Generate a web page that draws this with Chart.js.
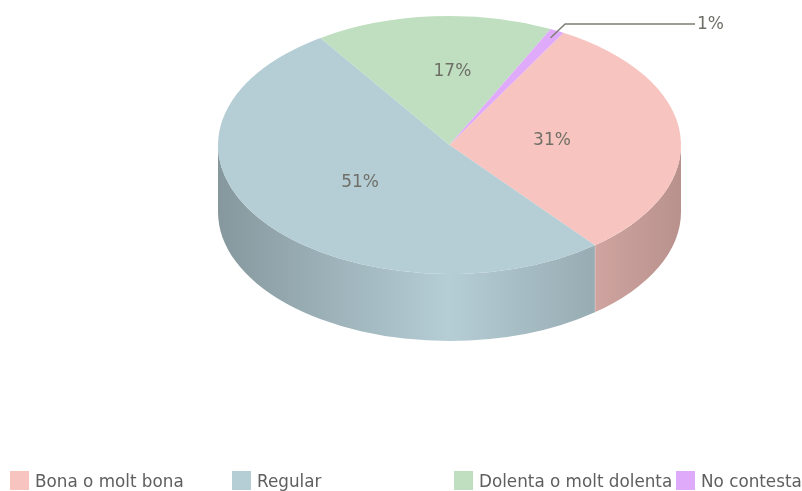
<!DOCTYPE html>
<html>
<head>
<meta charset="utf-8">
<script src="https://cdn.jsdelivr.net/npm/chart.js@4"></script>
<style>
  html, body { margin: 0; padding: 0; background: #fff; overflow: hidden; }
  #wrap { position: relative; width: 802px; height: 491px; filter: blur(0.4px); }
  #pie { position: absolute; left: 0; top: 0; }
  .key { position: absolute; top: 471px; height: 19px; font: 16.8px "DejaVu Sans", sans-serif; color: #5f5f5f; line-height: 20px; white-space: nowrap; }
  .key i { display: inline-block; width: 19px; height: 19px; margin-right: 6px; vertical-align: top; }
</style>
</head>
<body>
<div id="wrap">
  <canvas id="pie" width="802" height="491"></canvas>
  <div id="legend"></div>
</div>
<script>
const categories = ["Bona o molt bona", "Regular", "Dolenta o molt dolenta", "No contesta"];
const shares = [31, 51.4, 16.6, 1];
const sliceColors = ["#F8C4BF", "#B5CDD5", "#C0DFC0", "#E0AAFB"];

const textColor = "#6f6f68";
const tilt = 0.557;      // vertical squash of the pie
const depth = 67;        // height of the wall
const centerY = 145;     // where the top of the pie sits on screen
const labelReach = [0.44, 0.485, 0.567];
const labelNudge = [1, 1, 12];

function shade(hex, f) {
  const n = parseInt(hex.slice(1), 16);
  const c = [n >> 16, (n >> 8) & 255, n & 255].map(v => Math.round(v * f));
  return "rgb(" + c.join(",") + ")";
}

// squashes the library's round pie and adds the wall under it
const pie3d = {
  id: "pie3d",
  beforeDatasetsDraw(chart) {
    const ctx = chart.ctx;
    const arcs = chart.getDatasetMeta(0).data;
    const midY = (chart.chartArea.top + chart.chartArea.bottom) / 2;
    const rx = arcs[0].outerRadius, ry = rx * tilt;

    arcs.forEach((arc, i) => {
      // only the front half of the pie shows a wall
      const s = Math.max(arc.startAngle, 0), e = Math.min(arc.endAngle, Math.PI);
      if (e <= s) return;
      const g = ctx.createLinearGradient(arc.x - rx, 0, arc.x + rx, 0);
      g.addColorStop(0, shade(sliceColors[i], 0.74));
      g.addColorStop(0.5, shade(sliceColors[i], 1));
      g.addColorStop(1, shade(sliceColors[i], 0.74));
      ctx.beginPath();
      ctx.ellipse(arc.x, centerY, rx, ry, 0, s, e);
      ctx.ellipse(arc.x, centerY + depth, rx, ry, 0, e, s, true);
      ctx.closePath();
      ctx.fillStyle = g;
      ctx.fill();
      if (e < Math.PI) {
        const x = arc.x + rx * Math.cos(e), y = centerY + ry * Math.sin(e);
        ctx.beginPath();
        ctx.moveTo(x, y);
        ctx.lineTo(x, y + depth);
        ctx.strokeStyle = "rgba(255,255,255,0.5)";
        ctx.lineWidth = 1;
        ctx.stroke();
      }
    });

    ctx.save();
    ctx.translate(0, centerY);
    ctx.scale(1, tilt);
    ctx.translate(0, -midY);
  },
  afterDatasetsDraw(chart) {
    const ctx = chart.ctx;
    ctx.restore();

    const arcs = chart.getDatasetMeta(0).data;
    ctx.font = '17px "DejaVu Sans", sans-serif';
    ctx.fillStyle = textColor;
    ctx.textBaseline = "middle";
    arcs.forEach((arc, i) => {
      const mid = (arc.startAngle + arc.endAngle) / 2;
      const text = Math.round(shares[i]) + "%";
      if (i < labelReach.length) {
        const r = arc.outerRadius * labelReach[i];
        ctx.textAlign = "center";
        ctx.fillText(text, arc.x + r * Math.cos(mid) + labelNudge[i], centerY + r * tilt * Math.sin(mid));
      } else {
        // small slice gets a leader line
        const r = arc.outerRadius * 0.94;
        const x = arc.x + r * Math.cos(mid), y = centerY + r * tilt * Math.sin(mid);
        ctx.beginPath();
        ctx.moveTo(x, y);
        ctx.lineTo(x + 14.5, 24);
        ctx.lineTo(695, 24);
        ctx.strokeStyle = "#7d7d74";
        ctx.lineWidth = 1.5;
        ctx.stroke();
        ctx.textAlign = "left";
        ctx.fillText(text, 697, 24.5);
      }
    });
  }
};

new Chart(document.getElementById("pie"), {
  type: "pie",
  data: {
    labels: categories,
    datasets: [{ data: shares, backgroundColor: sliceColors, borderWidth: 0 }]
  },
  options: {
    responsive: false,
    animation: false,
    rotation: 29.5,
    layout: { padding: { left: 218, right: 121, top: 14, bottom: 14 } },
    plugins: { legend: { display: false }, tooltip: { enabled: false } }
  },
  plugins: [pie3d]
});

// legend sits on a fixed grid, the built-in one sizes columns to the text
categories.forEach((name, i) => {
  const el = document.createElement("div");
  el.className = "key";
  el.style.left = (10 + i * 222) + "px";
  const box = document.createElement("i");
  box.style.background = sliceColors[i];
  el.appendChild(box);
  el.appendChild(document.createTextNode(name));
  document.getElementById("legend").appendChild(el);
});
</script>
</body>
</html>
